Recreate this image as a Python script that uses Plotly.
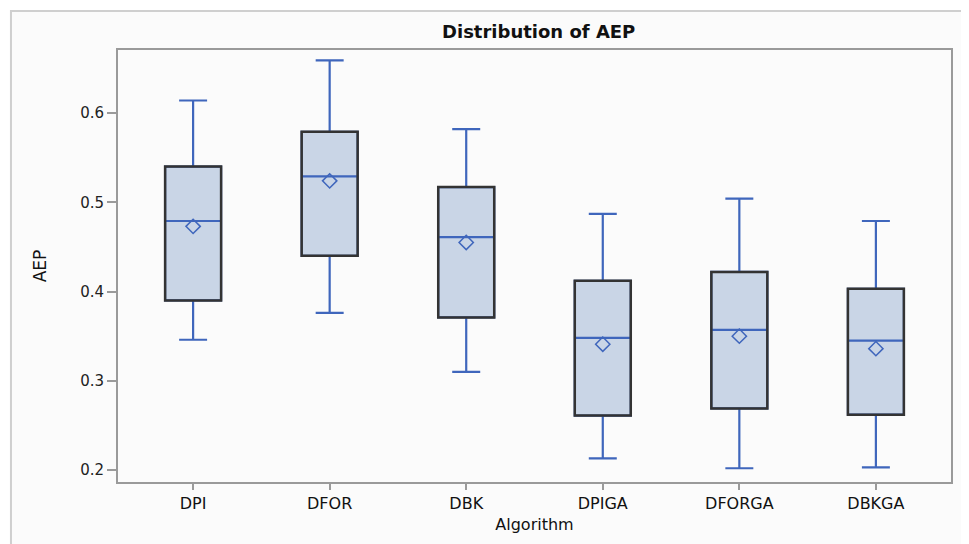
import plotly.graph_objects as go

categories = ["DPI", "DFOR", "DBK", "DPIGA", "DFORGA", "DBKGA"]
upper_whisker = [0.614, 0.659, 0.582, 0.487, 0.504, 0.479]
q3_values = [0.540, 0.579, 0.517, 0.412, 0.422, 0.403]
median_values = [0.479, 0.529, 0.461, 0.348, 0.357, 0.345]
mean_values = [0.473, 0.524, 0.455, 0.341, 0.350, 0.336]
q1_values = [0.390, 0.440, 0.371, 0.261, 0.269, 0.262]
lower_whisker = [0.346, 0.376, 0.310, 0.213, 0.202, 0.203]
y_ticks = [0.2, 0.3, 0.4, 0.5, 0.6]

BLUE = "#3f66bc"
FILL = "#c9d5e6"
DARK = "#333333"
AXIS = "#9a9a9a"
FONT = "DejaVu Sans, Arial, sans-serif"
BOX_W = 0.41

xs = list(range(len(categories)))

fig = go.Figure()
fig.add_trace(go.Box(
    x=xs, q1=q1_values, median=median_values, q3=q3_values,
    lowerfence=lower_whisker, upperfence=upper_whisker,
    fillcolor=FILL, line=dict(color=BLUE, width=2.2),
    width=BOX_W, whiskerwidth=0.5, boxpoints=False, showlegend=False,
    hoverinfo="skip",
))
# dark box outlines
for i in xs:
    fig.add_shape(type="rect", xref="x", yref="y",
                  x0=i - BOX_W / 2, x1=i + BOX_W / 2,
                  y0=q1_values[i], y1=q3_values[i],
                  line=dict(color=DARK, width=2.5), fillcolor="rgba(0,0,0,0)",
                  layer="above")
fig.add_trace(go.Scatter(
    x=xs, y=mean_values, mode="markers",
    marker=dict(symbol="diamond-open", size=11, color=BLUE, line=dict(width=1.5, color=BLUE)),
    showlegend=False, hoverinfo="skip",
))

# outer border
fig.add_shape(type="rect", xref="paper", yref="paper",
              x0=-0.1285, x1=1.0204, y0=-0.2, y1=1.0903,
              line=dict(color="#cfcfcf", width=2), fillcolor="#fbfbfb", layer="below")

fig.update_layout(
    width=961, height=536,
    margin=dict(l=110, r=18, t=42, b=62),
    paper_bgcolor="white", plot_bgcolor="#fdfdfd",
    font=dict(family=FONT, color="#111", size=15),
    title=dict(text="<b>Distribution of AEP</b>", x=0.505, xref="paper", xanchor="center",
               y=1 - 24 / 536, yanchor="middle", font=dict(size=18, color="#111", family=FONT)),
    showlegend=False,
)
fig.update_xaxes(
    range=[-0.55, 5.55], tickmode="array", tickvals=xs, ticktext=categories,
    showline=True, linecolor=AXIS, linewidth=2, mirror=True,
    ticks="outside", ticklen=6, tickcolor=AXIS, tickwidth=1.5,
    showgrid=False, zeroline=False,
    tickfont=dict(size=16, color="#111"),
    title=dict(text="Algorithm", font=dict(size=16, color="#111"), standoff=7),
)
fig.update_yaxes(
    range=[0.1866, 0.6706], tickmode="array", tickvals=y_ticks,
    ticktext=[f"{v:.1f}" for v in y_ticks],
    showline=True, linecolor=AXIS, linewidth=2, mirror=True,
    ticks="outside", ticklen=9, tickcolor=AXIS, tickwidth=1.5,
    showgrid=False, zeroline=False,
    tickfont=dict(size=15, color="#222"),
    title=dict(text="AEP", font=dict(size=17, color="#111"), standoff=29),
)

fig.write_html("out.html")
